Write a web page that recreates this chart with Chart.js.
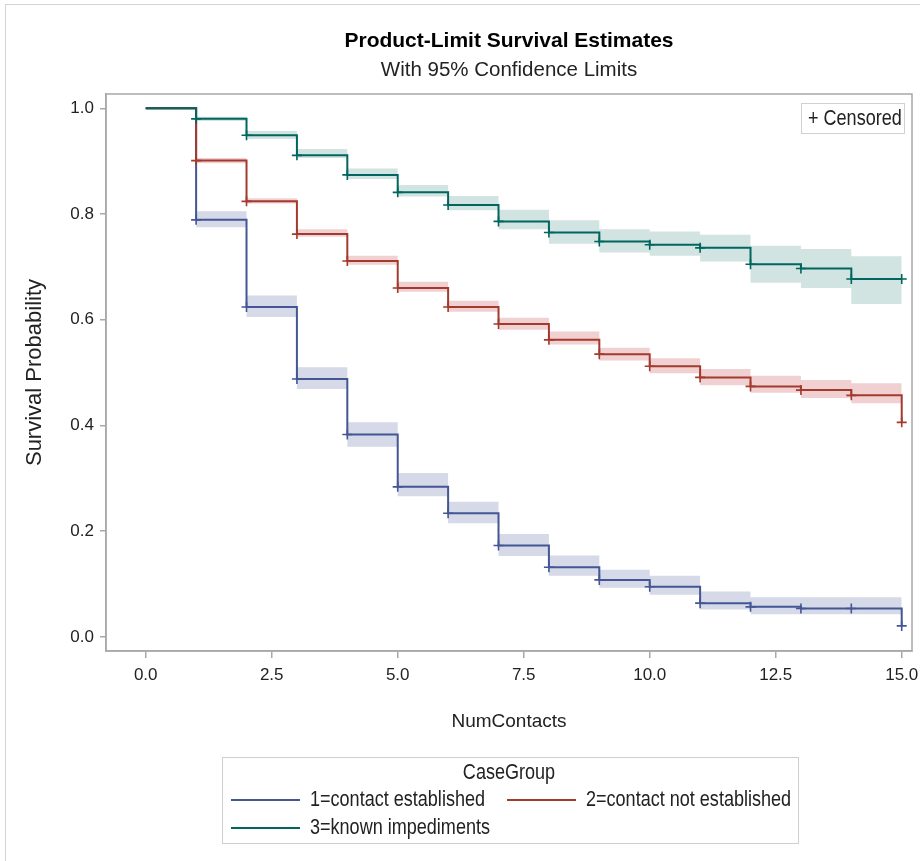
<!DOCTYPE html>
<html>
<head>
<meta charset="utf-8">
<title>Product-Limit Survival Estimates</title>
<script src="https://cdn.jsdelivr.net/npm/chart.js@4.4.1/dist/chart.umd.min.js"></script>
<style>
  html, body { margin: 0; padding: 0; background: #fff; }
  #wrap { position: relative; width: 920px; height: 861px; overflow: hidden; }
  #wrap canvas { position: absolute; left: 0; top: 0; }
  #page { position: absolute; left: 5px; top: 4px; right: 0; bottom: 0;
          border-left: 1px solid #d4d4d4; border-top: 1px solid #d4d4d4; pointer-events: none; }
</style>
</head>
<body>
<div id="wrap">
  <canvas id="kmChart" width="920" height="861"></canvas>
  <div id="page"></div>
</div>
<script>
// survival estimate at each number of contacts (0..15)
const times = [0, 1, 2, 3, 4, 5, 6, 7, 8, 9, 10, 11, 12, 13, 14, 15];
const survEstablished = [1, 0.789, 0.624, 0.488, 0.383, 0.284, 0.234, 0.173, 0.132, 0.108, 0.095, 0.064, 0.057, 0.054, 0.054, 0.021];
const survNotEstablished = [1, 0.901, 0.824, 0.762, 0.711, 0.660, 0.624, 0.592, 0.562, 0.535, 0.512, 0.491, 0.474, 0.467, 0.457, 0.406];
const survImpediments = [1, 0.980, 0.949, 0.911, 0.874, 0.841, 0.817, 0.786, 0.765, 0.748, 0.742, 0.736, 0.705, 0.697, 0.677, 0.677];

// 95% confidence limits for the intervals [1,2) ... [14,15)
const upperEstablished = [0.805, 0.646, 0.510, 0.406, 0.310, 0.256, 0.195, 0.154, 0.127, 0.116, 0.086, 0.075, 0.075, 0.075];
const lowerEstablished = [0.775, 0.605, 0.469, 0.360, 0.266, 0.215, 0.153, 0.116, 0.093, 0.080, 0.052, 0.043, 0.043, 0.043];
const upperNotEstablished = [0.906, 0.830, 0.771, 0.721, 0.672, 0.636, 0.604, 0.578, 0.547, 0.527, 0.507, 0.494, 0.486, 0.480];
const lowerNotEstablished = [0.896, 0.820, 0.757, 0.704, 0.653, 0.615, 0.581, 0.553, 0.523, 0.499, 0.476, 0.462, 0.452, 0.442];
const upperImpediments = [0.984, 0.957, 0.923, 0.886, 0.855, 0.834, 0.808, 0.788, 0.771, 0.767, 0.761, 0.740, 0.734, 0.720];
const lowerImpediments = [0.976, 0.942, 0.906, 0.866, 0.833, 0.807, 0.771, 0.744, 0.727, 0.721, 0.710, 0.670, 0.660, 0.630];

const groupLabels = ["1=contact established", "2=contact not established", "3=known impediments"];
const xTicks = [0, 2.5, 5, 7.5, 10, 12.5, 15];
const yTicks = [0, 0.2, 0.4, 0.6, 0.8, 1.0];

const titleText = "Product-Limit Survival Estimates";
const subtitleText = "With 95% Confidence Limits";
const legendTitle = "CaseGroup";
const censorText = "+ Censored";

const lineColors = ["#445694", "#A23A2E", "#01665E"];
const bandColors = ["#d5d9e8", "#f1d0d1", "#d2e4e2"];
const textColor = "#222";
const axisColor = "#a8a8a8";
const regular = '"Liberation Sans", Arial, sans-serif';

const survival = [survEstablished, survNotEstablished, survImpediments];
const upper = [upperEstablished, upperNotEstablished, upperImpediments];
const lower = [lowerEstablished, lowerNotEstablished, lowerImpediments];

function bandPoints(values) {
  const pts = values.map((v, i) => ({ x: times[i + 1], y: v }));
  pts.push({ x: times[times.length - 1], y: values[values.length - 1] });
  return pts;
}

// condensed-looking text (the original uses a narrow face)
function narrowText(ctx, text, x, y, align) {
  ctx.save();
  ctx.translate(x, y);
  ctx.scale(0.82, 1);
  ctx.font = "22px " + regular;
  ctx.textAlign = align;
  ctx.textBaseline = "middle";
  ctx.fillText(text, 0, 0);
  ctx.restore();
}

const datasets = [];
survival.forEach((s, g) => {
  // censored marks
  datasets.push({
    label: groupLabels[g] + " censored",
    data: times.slice(1).map((t, i) => ({ x: t, y: s[i + 1] })),
    showLine: false,
    pointStyle: "cross",
    pointRadius: 5,
    pointBorderWidth: 1.6,
    borderColor: lineColors[g],
    order: 0,
  });
  // survival step line
  datasets.push({
    label: groupLabels[g],
    data: times.map((t, i) => ({ x: t, y: s[i] })),
    stepped: "before",
    borderColor: lineColors[g],
    borderWidth: 2,
    pointRadius: 0,
    fill: false,
    order: 3 - g,
  });
});
survival.forEach((s, g) => {
  datasets.push({
    label: groupLabels[g] + " upper",
    data: bandPoints(upper[g]),
    stepped: "before",
    borderColor: "rgba(0,0,0,0)",
    borderWidth: 1,
    pointRadius: 0,
    fill: false,
    order: 10 + g,
  });
  datasets.push({
    label: groupLabels[g] + " lower",
    data: bandPoints(lower[g]),
    stepped: "before",
    borderColor: "rgba(0,0,0,0)",
    borderWidth: 1,
    pointRadius: 0,
    fill: "-1",
    backgroundColor: bandColors[g],
    order: 10 + g,
  });
});

const decorPlugin = {
  id: "decor",
  afterDraw(chart) {
    const ctx = chart.ctx;
    const area = chart.chartArea;
    const cx = (area.left + area.right) / 2;
    ctx.save();

    // plot frame
    ctx.strokeStyle = axisColor;
    ctx.lineWidth = 1.5;
    ctx.strokeRect(area.left, area.top, area.right - area.left, area.bottom - area.top);

    // titles
    ctx.fillStyle = "#000";
    ctx.textAlign = "center";
    ctx.textBaseline = "middle";
    ctx.font = "bold 21px " + regular;
    ctx.fillText(titleText, cx, 41);
    ctx.fillStyle = textColor;
    ctx.font = "20.5px " + regular;
    ctx.fillText(subtitleText, cx, 70);

    // censored inset
    ctx.strokeStyle = "#d0d0d0";
    ctx.lineWidth = 1;
    ctx.strokeRect(801.5, 103.5, 103, 30);
    narrowText(ctx, censorText, 808, 119, "left");

    // group legend
    ctx.strokeStyle = "#cfcfcf";
    ctx.strokeRect(222.5, 757.5, 576, 86);
    narrowText(ctx, legendTitle, cx, 773, "center");
    const slots = [[231, 800], [507, 800], [231, 828]];
    groupLabels.forEach((label, g) => {
      const [lx, ly] = slots[g];
      ctx.strokeStyle = lineColors[g];
      ctx.lineWidth = 2;
      ctx.beginPath();
      ctx.moveTo(lx, ly);
      ctx.lineTo(lx + 69, ly);
      ctx.stroke();
      narrowText(ctx, label, lx + 79, ly, "left");
    });
    ctx.restore();
  },
};

new Chart(document.getElementById("kmChart"), {
  type: "line",
  data: { datasets },
  options: {
    responsive: false,
    animation: false,
    devicePixelRatio: 1,
    layout: { padding: { top: 94, right: 8, left: 0, bottom: 0 } },
    plugins: {
      legend: { display: false },
      tooltip: { enabled: false },
      title: { display: false },
    },
    scales: {
      x: {
        type: "linear",
        min: -0.788,
        max: 15.204,
        afterBuildTicks: (s) => { s.ticks = xTicks.map((v) => ({ value: v })); },
        afterFit: (s) => { s.height = 210; s.paddingLeft = 0; s.paddingRight = 0; },
        ticks: {
          callback: (v) => Number(v).toFixed(1),
          font: { family: regular, size: 17 },
          color: textColor,
          padding: 7,
          maxRotation: 0,
          autoSkip: false,
        },
        grid: { drawOnChartArea: false, tickLength: 7, color: axisColor, lineWidth: 1.5 },
        border: { color: axisColor, width: 1.5 },
        title: {
          display: true,
          text: "NumContacts",
          color: textColor,
          font: { family: regular, size: 19 },
          padding: { top: 0, bottom: 128 },
        },
      },
      y: {
        type: "linear",
        min: -0.0265,
        max: 1.027,
        afterBuildTicks: (s) => { s.ticks = yTicks.map((v) => ({ value: v })); },
        afterFit: (s) => { s.width = 106; s.paddingTop = 0; s.paddingBottom = 0; },
        ticks: {
          callback: (v) => Number(v).toFixed(1),
          font: { family: regular, size: 17 },
          color: textColor,
          padding: 6,
        },
        grid: { drawOnChartArea: false, tickLength: 6, color: axisColor, lineWidth: 1.5 },
        border: { color: axisColor, width: 1.5 },
        title: {
          display: true,
          text: "Survival Probability",
          color: textColor,
          font: { family: regular, size: 22 },
          padding: { top: 22, bottom: 0 },
        },
      },
    },
  },
  plugins: [decorPlugin],
});
</script>
</body>
</html>
